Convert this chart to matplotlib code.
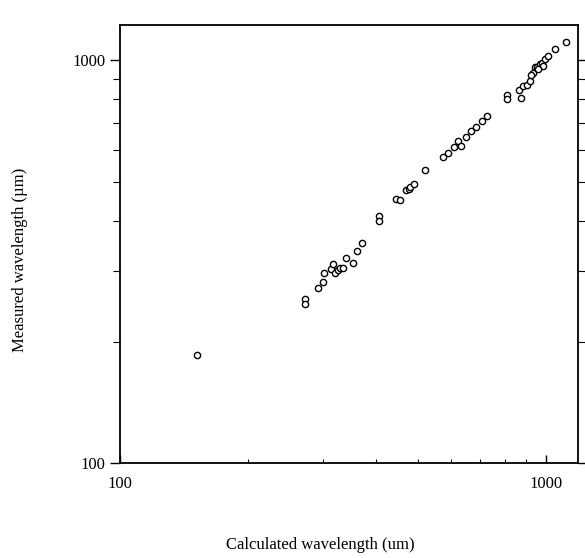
import matplotlib
matplotlib.use("Agg")
import matplotlib.pyplot as plt
from matplotlib.ticker import LogLocator, NullFormatter, FixedLocator, FixedFormatter

calculated = [152, 272, 272, 292, 299, 301, 313, 316, 320, 325, 328, 334, 340, 353,
              361, 371, 406, 406, 446, 454, 469, 477, 480, 490, 521, 573, 589, 608,
              623, 632, 650, 668, 687, 707, 727, 812, 812, 875, 867, 882, 901, 916,
              932, 943, 954, 970, 980, 985, 997, 1013, 1053, 1113, 925, 960]
measured = [186, 256, 249, 272, 281, 296, 303, 313, 297, 301, 306, 306, 324, 314,
            336, 352, 412, 400, 453, 450, 476, 479, 484, 492, 535, 575, 588, 608,
            632, 614, 646, 668, 683, 707, 726, 821, 803, 806, 844, 863, 868, 887,
            933, 961, 966, 982, 987, 970, 1009, 1026, 1067, 1114, 920, 955]

x_ticks = [100, 1000]
x_tick_labels = ["100", "1000"]
y_ticks = [100, 1000]
y_tick_labels = ["100", "1000"]

plt.rcParams['font.family'] = ['Liberation Serif', 'DejaVu Serif']

fig = plt.figure(figsize=(5.85, 5.58), dpi=100)
ax = fig.add_axes([0.205, 0.170, 0.783, 0.785])

ax.plot(calculated, measured, linestyle='none', marker='o', markersize=4.5,
        markerfacecolor='white', markeredgecolor='black', markeredgewidth=1.0)

ax.set_xscale('log')
ax.set_yscale('log')
ax.set_xlim(100, 1190)
ax.set_ylim(100, 1224)

ax.xaxis.set_major_locator(FixedLocator(x_ticks))
ax.xaxis.set_major_formatter(FixedFormatter(x_tick_labels))
ax.yaxis.set_major_locator(FixedLocator(y_ticks))
ax.yaxis.set_major_formatter(FixedFormatter(y_tick_labels))
ax.xaxis.set_minor_locator(LogLocator(base=10, subs=range(2, 10)))
ax.yaxis.set_minor_locator(LogLocator(base=10, subs=range(2, 10)))
ax.xaxis.set_minor_formatter(NullFormatter())
ax.yaxis.set_minor_formatter(NullFormatter())

ax.tick_params(axis='x', which='both', direction='in', top=False, labelsize=12, pad=9)
ax.tick_params(axis='x', which='major', length=6, width=1)
ax.tick_params(axis='x', which='minor', length=3, width=0.8)
ax.tick_params(axis='y', which='both', direction='out', right=True, left=True, labelsize=12)
ax.tick_params(axis='y', which='major', length=7, width=1)
ax.tick_params(axis='y', which='minor', length=5, width=0.8)

for sp in ax.spines.values():
    sp.set_linewidth(1.3)

ax.set_xlabel("Calculated wavelength (um)", fontsize=12)
ax.set_ylabel("Measured wavelength (µm)", fontsize=12)
ax.xaxis.set_label_coords(0.437, -0.168)
ax.yaxis.set_label_coords(-0.200, 0.463)

fig.savefig("out.png", dpi=100)
